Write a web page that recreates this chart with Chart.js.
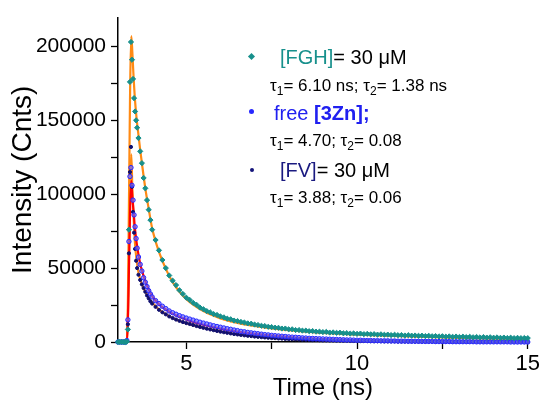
<!DOCTYPE html>
<html>
<head>
<meta charset="utf-8">
<script src="https://cdn.jsdelivr.net/npm/chart.js@4.4.1/dist/chart.umd.min.js"></script>
<style>
  html, body { margin: 0; padding: 0; background: #fff; }
  #wrap { position: relative; width: 542px; height: 400px; overflow: hidden; font-family: "Liberation Sans", Arial, sans-serif; }
  #c { position: absolute; left: 0; top: 0; }
  .lg { position: absolute; white-space: nowrap; line-height: 1; color: #000; }
  .h { font-size: 20px; }
  .t { font-size: 17px; }
  .t sub { font-size: 12px; vertical-align: -4px; line-height: 0; }
  .mk { position: absolute; }
</style>
</head>
<body>
<div id="wrap">
  <canvas id="c" width="542" height="400"></canvas>
  <div class="mk" style="left:249px;top:54px;width:5px;height:5px;background:#17908c;transform:rotate(45deg);"></div>
  <div class="lg h" style="left:280px;top:47px;"><span style="color:#17908c">[FGH]</span>= 30 &mu;M</div>
  <div class="lg t" style="left:270px;top:77px;">&tau;<sub>1</sub>= 6.10 ns; &tau;<sub>2</sub>= 1.38 ns</div>
  <div class="mk" style="left:249px;top:109px;width:5px;height:5px;border-radius:50%;background:#2828ff;"></div>
  <div class="lg h" style="left:274px;top:103px;color:#2020f0;">free <b>[3Zn];</b></div>
  <div class="lg t" style="left:270px;top:132px;">&tau;<sub>1</sub>= 4.70; &tau;<sub>2</sub>= 0.08</div>
  <div class="mk" style="left:250px;top:168px;width:4px;height:4px;border-radius:50%;background:#14147a;"></div>
  <div class="lg h" style="left:280px;top:160px;"><span style="color:#1a1a80">[FV]</span>= 30 &mu;M</div>
  <div class="lg t" style="left:270px;top:189px;">&tau;<sub>1</sub>= 3.88; &tau;<sub>2</sub>= 0.06</div>
</div>
<script>
// ---- data ----
const times = [
  3.00, 3.05, 3.10, 3.15, 3.20, 3.23, 3.26, 3.29, 3.32, 3.35,
  3.38, 3.41, 3.44, 3.47, 3.50, 3.53, 3.56, 3.60, 3.65, 3.70,
  3.75, 3.80, 3.85, 3.90, 3.95,
  4.0, 4.1, 4.2, 4.3, 4.4, 4.5, 4.6, 4.7, 4.8, 4.9,
  5.0, 5.1, 5.2, 5.3, 5.4, 5.5, 5.6, 5.7, 5.8, 5.9,
  6.0, 6.1, 6.2, 6.3, 6.4, 6.5, 6.6, 6.7, 6.8, 6.9,
  7.0, 7.1, 7.2, 7.3, 7.4, 7.5, 7.6, 7.7, 7.8, 7.9,
  8.0, 8.1, 8.2, 8.3, 8.4, 8.5, 8.6, 8.7, 8.8, 8.9,
  9.0, 9.1, 9.2, 9.3, 9.4, 9.5, 9.6, 9.7, 9.8, 9.9,
  10.0, 10.1, 10.2, 10.3, 10.4, 10.5, 10.6, 10.7, 10.8, 10.9,
  11.0, 11.1, 11.2, 11.3, 11.4, 11.5, 11.6, 11.7, 11.8, 11.9,
  12.0, 12.1, 12.2, 12.3, 12.4, 12.5, 12.6, 12.7, 12.8, 12.9,
  13.0, 13.1, 13.2, 13.3, 13.4, 13.5, 13.6, 13.7, 13.8, 13.9,
  14.0, 14.1, 14.2, 14.3, 14.4, 14.5, 14.6, 14.7, 14.8, 14.9,
  15.0
];
const fghData = [
  0, 0, 0, 0, 0, 0, 400, 8500, 76000, 176000,
  203000, 191000, 178000, 165000, 156000, 150000, 145000, 138000, 129000, 121000,
  111000, 104000, 96000, 89500, 82500,
  76000, 69000, 62000, 55500, 50000, 45000, 41500, 38500, 35000, 32500,
  30000, 28500, 26500, 25200, 23300, 22200, 20900, 20100, 18900, 18300,
  17300, 16700, 15800, 15400, 14500, 14200, 13600, 13200, 12600, 12400,
  11800, 11500, 11000, 10800, 10300, 10100, 9700, 9600, 9100, 9100,
  8600, 8600, 8100, 8100, 7700, 7700, 7300, 7400, 7000, 7000,
  6700, 6800, 6400, 6500, 6200, 6300, 5900, 6000, 5700, 5800,
  5500, 5700, 5300, 5500, 5200, 5300, 5000, 5200, 4900, 5000,
  4700, 4900, 4600, 4700, 4400, 4600, 4300, 4400, 4200, 4300,
  4000, 4200, 3900, 4000, 3800, 3900, 3600, 3800, 3500, 3700,
  3400, 3600, 3300, 3500, 3200, 3400, 3100, 3300, 3000, 3200,
  2900, 3100, 2800, 3000, 2700, 2900, 2600, 2800, 2600, 2700,
  2600
];
const znData = [
  0, 0, 0, 0, 0, 0, 1000, 15000, 68000, 112000,
  118000, 106000, 96000, 86000, 78000, 70000, 63500, 57500, 52500, 48000,
  43500, 40500, 37500, 34700, 32500,
  30500, 28000, 26000, 24200, 22600, 21000, 19800, 18800, 17800, 17000,
  16200, 15500, 14800, 14100, 13400, 12800, 12200, 11600, 11000, 10500,
  10000, 9500, 9000, 8600, 8100, 7700, 7200, 6900, 6500, 6200,
  5900, 5600, 5300, 5000, 4800, 4500, 4300, 4100, 3900, 3700,
  3500, 3300, 3200, 3000, 2800, 2700, 2500, 2400, 2300, 2200,
  2100, 2000, 1900, 1800, 1700, 1600, 1500, 1400, 1400, 1300,
  1200, 1200, 1100, 1000, 1000, 900, 900, 800, 800, 800,
  700, 700, 600, 600, 600, 500, 500, 500, 500, 400,
  400, 400, 400, 300, 300, 300, 300, 300, 200, 200,
  200, 200, 200, 200, 200, 100, 100, 100, 100, 100,
  100, 100, 100, 100, 100, 0, 0, 0, 0, 0,
  0
];
const fvData = [
  0, 0, 0, 0, 0, 0, 500, 12000, 60000, 115000,
  132000, 105000, 88000, 74000, 63000, 55000, 50000, 45500, 42000, 39000,
  36500, 34000, 31500, 29500, 27500,
  26000, 23800, 21800, 20100, 18700, 17300, 16200, 15200, 14300, 13500,
  12800, 12200, 11500, 10800, 10200, 9600, 9000, 8500, 8000, 7500,
  7000, 6600, 6200, 5800, 5400, 5100, 4800, 4500, 4200, 4000,
  3700, 3500, 3300, 3100, 2900, 2700, 2600, 2400, 2300, 2100,
  2000, 1900, 1800, 1700, 1600, 1500, 1400, 1300, 1300, 1200,
  1100, 1100, 1000, 1000, 900, 900, 800, 800, 700, 700,
  700, 600, 600, 600, 500, 500, 500, 500, 400, 400,
  400, 400, 300, 300, 300, 300, 300, 200, 200, 200,
  200, 200, 200, 200, 200, 100, 100, 100, 100, 100,
  100, 100, 100, 100, 100, 100, 100, 100, 100, 100,
  100, 100, 100, 100, 100, 100, 0, 0, 0, 0,
  0
];
const fitTimes = [3.0, 3.26, 3.39, 3.42, 3.45, 3.5, 3.55, 3.6, 3.65, 3.7,
  3.8, 3.9, 4.0, 4.2, 4.4, 4.6, 4.8, 5.0, 5.25, 5.5,
  5.75, 6.0, 6.5, 7.0, 7.5, 8.0, 8.5, 9.0, 10, 11,
  12, 13, 14, 15];
const fghFit = [0, 0, 207000, 196000, 182000, 163000, 150000, 140000, 130000, 121000,
  104000, 90000, 77000, 61000, 49500, 40500, 34000, 29000, 24500, 21000,
  18200, 16000, 12900, 10800, 9200, 8000, 7000, 6200, 5000, 4100,
  3400, 2800, 2300, 1900];
const znFit = [0, 0, 109000, 98000, 90000, 76000, 66500, 59000, 53000, 48500,
  41000, 35500, 31000, 25500, 22000, 19200, 17000, 15200, 13300, 11700,
  10300, 9100, 7000, 5500, 4300, 3300, 2600, 2000, 1200, 700,
  400, 250, 150, 100];
const fvFit = [0, 0, 127000, 104000, 88000, 66000, 54500, 47000, 42500, 39000,
  34000, 30000, 26800, 22000, 18800, 16200, 14200, 12700, 11000, 9600,
  8300, 7100, 5200, 3800, 2800, 2100, 1600, 1200, 700, 450,
  300, 200, 150, 100];
// tick positions (major + minor) and the labelled ones
const xTickValues = [5, 7.5, 10, 12.5, 15];
const xTickLabels = [5, 10, 15];
const yTickValues = [0, 25000, 50000, 75000, 100000, 125000, 150000, 175000, 200000];
const yTickLabels = [0, 50000, 100000, 150000, 200000];

// ---- build chart ----
const pts = (xs, ys) => xs.map((x, i) => ({x: x, y: ys[i]}));
const TEAL = 'rgb(23,144,140)', BLUE = 'rgb(40,40,255)', NAVY = 'rgb(16,16,112)';
const ORANGE = 'rgb(255,138,20)', RED = 'rgb(255,0,0)';
const FONT = "'Liberation Sans', Arial, sans-serif";

new Chart(document.getElementById('c'), {
  type: 'scatter',
  data: {
    datasets: [
      { data: pts(times, fghData), showLine: false, pointStyle: 'rectRot', pointRadius: 2.6,
        backgroundColor: TEAL, borderColor: TEAL, borderWidth: 1, clip: 6 },
      { data: pts(times, znData), showLine: false, pointStyle: 'circle', pointRadius: 2.2,
        backgroundColor: 'rgba(110,110,255,0.7)', borderColor: BLUE, borderWidth: 1, clip: 6 },
      { data: pts(times, fvData), showLine: false, pointStyle: 'circle', pointRadius: 1.6,
        backgroundColor: NAVY, borderColor: NAVY, borderWidth: 1, clip: 6 },
      { data: pts(fitTimes, znFit), showLine: true, pointRadius: 0, borderColor: RED, borderWidth: 2.2,
        cubicInterpolationMode: 'monotone', clip: 6 },
      { data: pts(fitTimes, fvFit), showLine: true, pointRadius: 0, borderColor: ORANGE, borderWidth: 2.2,
        cubicInterpolationMode: 'monotone', clip: 6 },
      { data: pts(fitTimes, fghFit), showLine: true, pointRadius: 0, borderColor: ORANGE, borderWidth: 2.2,
        cubicInterpolationMode: 'monotone', clip: 6 }
    ]
  },
  options: {
    responsive: false,
    animation: false,
    events: [],
    layout: { padding: { left: 0, right: 14, top: 13, bottom: 0 } },
    plugins: { legend: { display: false }, tooltip: { enabled: false } },
    scales: {
      x: {
        type: 'linear', min: 3, max: 15,
        afterFit: s => { s.height = 58; },
        afterBuildTicks: s => { s.ticks = xTickValues.map(v => ({value: v})); },
        ticks: { autoSkip: false, maxRotation: 0, padding: 2, color: '#000',
                 font: { family: FONT, size: 22 },
                 callback: v => xTickLabels.indexOf(v) >= 0 ? String(v) : '' },
        grid: { drawOnChartArea: false, drawTicks: true, tickLength: 7, tickColor: '#000', tickWidth: 1.3 },
        border: { display: true, color: '#000', width: 1.5 },
        title: { display: true, text: 'Time (ns)', color: '#000',
                 font: { family: FONT, size: 24, lineHeight: 1 }, padding: { top: 0, bottom: 0 } }
      },
      y: {
        type: 'linear', min: 0, max: 219500,
        afterFit: s => { s.width = 118; },
        afterBuildTicks: s => { s.ticks = yTickValues.map(v => ({value: v})); },
        ticks: { autoSkip: false, padding: 5, color: '#000',
                 font: { family: FONT, size: 21 },
                 callback: v => yTickLabels.indexOf(v) >= 0 ? String(v) : '' },
        grid: { drawOnChartArea: false, drawTicks: true, tickLength: 7, tickColor: '#000', tickWidth: 1.3 },
        border: { display: true, color: '#000', width: 1.5 },
        title: { display: true, text: 'Intensity (Cnts)', color: '#000',
                 font: { family: FONT, size: 28, lineHeight: 1 }, padding: { top: 9, bottom: 0 } }
      }
    }
  }
});
</script>
</body>
</html>
